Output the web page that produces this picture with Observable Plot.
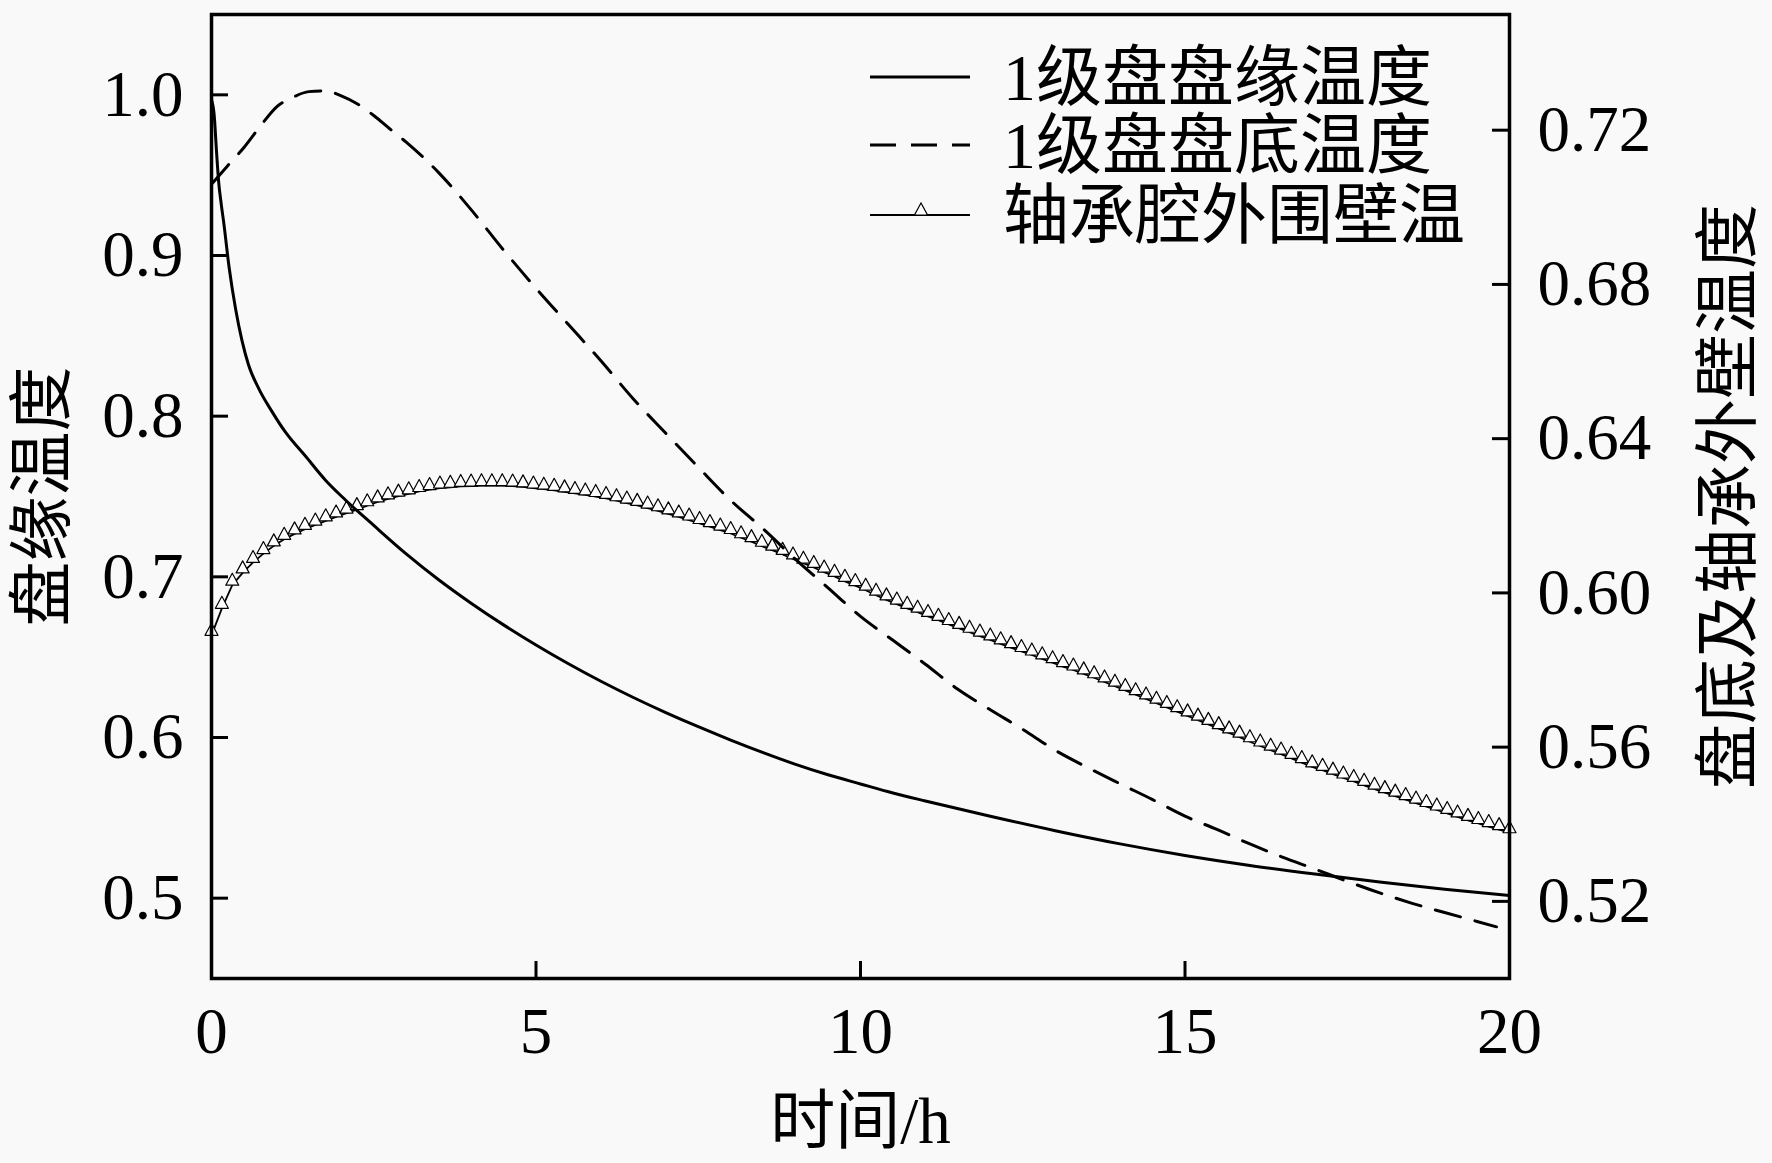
<!DOCTYPE html>
<html>
<head>
<meta charset="utf-8">
<script src="https://cdn.jsdelivr.net/npm/d3@7"></script>
<script src="https://cdn.jsdelivr.net/npm/@observablehq/plot@0.6"></script>
<style>
  html, body { margin: 0; padding: 0; background: #f9f9f9; }
  #wrap { position: relative; width: 1772px; height: 1163px; }
  #legend { position: absolute; left: 0; top: 0; pointer-events: none; }
</style>
</head>
<body>
<div id="wrap"></div>
<script>
// ---------------- data ----------------
const xTicks = [0, 5, 10, 15, 20];
const leftTicks = [0.5, 0.6, 0.7, 0.8, 0.9, 1.0];
const rightTicks = [0.52, 0.56, 0.60, 0.64, 0.68, 0.72];

const seriesNames = ["1级盘盘缘温度", "1级盘盘底温度", "轴承腔外围壁温"];
const xLabel = "时间/h";
const leftLabel = "盘缘温度";
const rightLabel = "盘底及轴承外壁温度";

// 1级盘盘缘温度 (left axis)
const rimTime = [0, 0.04, 0.08, 0.11, 0.15, 0.19, 0.27, 0.37, 0.47, 0.57, 0.73, 0.93, 1.14, 1.45, 1.76, 2.06, 2.5, 3.0, 3.5, 4.0, 4.5, 5.0, 5.5, 6.0, 6.5, 7.0, 7.5, 8.0, 8.5, 9.0, 9.5, 10, 10.5, 11, 12, 13, 14, 15, 16, 17, 18, 19, 20];
const rimTemp = [0.997, 0.988, 0.963, 0.946, 0.932, 0.920, 0.893, 0.867, 0.847, 0.832, 0.817, 0.803, 0.790, 0.775, 0.760, 0.748, 0.732, 0.7143, 0.6982, 0.6836, 0.6701, 0.6576, 0.6459, 0.6350, 0.6249, 0.6155, 0.6067, 0.5984, 0.5906, 0.5833, 0.5768, 0.5711, 0.5655, 0.5605, 0.5510, 0.5420, 0.5338, 0.5266, 0.5204, 0.5150, 0.5100, 0.5056, 0.5017];

// 1级盘盘底温度 (right axis)
const baseTime = [0, 0.25, 0.5, 0.75, 1.0, 1.25, 1.5, 1.75, 2.0, 2.25, 2.5, 2.75, 3.0, 3.5, 4.0, 4.5, 5.0, 5.5, 6.0, 6.5, 7.0, 7.5, 8.0, 8.5, 9.0, 9.5, 10.0, 10.5, 11.0, 11.5, 12.0, 12.5, 13.0, 13.5, 14.0, 14.5, 15.0, 15.5, 16.0, 16.5, 17.0, 17.5, 18.0, 18.5, 19.0, 19.5, 19.8];
const baseTemp = [0.7060, 0.7108, 0.7155, 0.7210, 0.7260, 0.7285, 0.7300, 0.7302, 0.7289, 0.7268, 0.7238, 0.7203, 0.7169, 0.7090, 0.6994, 0.6889, 0.6790, 0.6696, 0.6602, 0.6503, 0.6414, 0.6326, 0.6240, 0.6166, 0.6087, 0.6013, 0.5939, 0.5877, 0.5815, 0.5750, 0.5697, 0.5646, 0.5592, 0.5547, 0.5505, 0.5464, 0.5421, 0.5386, 0.5349, 0.5315, 0.5284, 0.5252, 0.5222, 0.5195, 0.5171, 0.5148, 0.5134];

// 轴承腔外围壁温 (right axis)
const wallTime = [0, 0.16, 0.32, 0.48, 0.64, 0.8, 0.96, 1.12, 1.28, 1.44, 1.6, 1.76, 1.92, 2.08, 2.24, 2.4, 2.56, 2.72, 2.88, 3.04, 3.2, 3.36, 3.52, 3.68, 3.84,
  4, 4.16, 4.32, 4.48, 4.64, 4.8, 4.96, 5.12, 5.28, 5.44, 5.6, 5.76, 5.92, 6.08, 6.24, 6.4, 6.56, 6.72, 6.88, 7.04, 7.2, 7.36, 7.52, 7.68, 7.84,
  8, 8.16, 8.32, 8.48, 8.64, 8.8, 8.96, 9.12, 9.28, 9.44, 9.6, 9.76, 9.92, 10.08, 10.24, 10.4, 10.56, 10.72, 10.88, 11.04, 11.2, 11.36, 11.52, 11.68, 11.84,
  12, 12.16, 12.32, 12.48, 12.64, 12.8, 12.96, 13.12, 13.28, 13.44, 13.6, 13.76, 13.92, 14.08, 14.24, 14.4, 14.56, 14.72, 14.88, 15.04, 15.2, 15.36, 15.52, 15.68, 15.84,
  16, 16.16, 16.32, 16.48, 16.64, 16.8, 16.96, 17.12, 17.28, 17.44, 17.6, 17.76, 17.92, 18.08, 18.24, 18.4, 18.56, 18.72, 18.88, 19.04, 19.2, 19.36, 19.52, 19.68, 19.84, 20];
const wallTemp = [0.5890, 0.5960, 0.6020, 0.6052, 0.6079, 0.6102, 0.6122, 0.6139, 0.6153, 0.6165, 0.6176, 0.6187, 0.6197, 0.6207, 0.6216, 0.6226, 0.6236, 0.6244, 0.6251, 0.6257, 0.6263, 0.6268, 0.6272, 0.6274, 0.6276,
  0.6277, 0.6278, 0.6278, 0.6278, 0.6277, 0.6275, 0.6272, 0.6269, 0.6266, 0.6262, 0.6258, 0.6254, 0.6250, 0.6245, 0.6239, 0.6233, 0.6227, 0.6220, 0.6213, 0.6205, 0.6197, 0.6189, 0.6180, 0.6172, 0.6163,
  0.6154, 0.6143, 0.6133, 0.6121, 0.6111, 0.6100, 0.6088, 0.6077, 0.6066, 0.6054, 0.6043, 0.6030, 0.6019, 0.6007, 0.5994, 0.5982, 0.5971, 0.5960, 0.5950, 0.5939, 0.5929, 0.5918, 0.5908, 0.5898, 0.5888,
  0.5878, 0.5868, 0.5858, 0.5848, 0.5839, 0.5829, 0.5819, 0.5809, 0.5800, 0.5790, 0.5780, 0.5769, 0.5758, 0.5747, 0.5736, 0.5725, 0.5714, 0.5703, 0.5692, 0.5681, 0.5670, 0.5659, 0.5648, 0.5637, 0.5626,
  0.5614, 0.5603, 0.5592, 0.5582, 0.5571, 0.5560, 0.5549, 0.5540, 0.5530, 0.5520, 0.5511, 0.5501, 0.5491, 0.5482, 0.5473, 0.5464, 0.5455, 0.5446, 0.5437, 0.5428, 0.5419, 0.5410, 0.5402, 0.5394, 0.5386, 0.5378];

// ---------------- layout / style ----------------
const W = 1772, H = 1163;
const M = {top: 14, right: 263, bottom: 185, left: 211};
const frameW = W - M.left - M.right, frameH = H - M.top - M.bottom;
const tickLen = 17;
const leftDomain = [0.45, 1.05];
const rightDomain = [0.50, 0.75];
const toLeft = d3.scaleLinear().domain(rightDomain).range(leftDomain);
const font = "'Liberation Serif', 'Noto Sans CJK SC', serif";
const triPath = "M0,-12L-6.5,0L6.5,0Z";

const rim = rimTime.map((t, i) => ({t, v: rimTemp[i]}));
const base = baseTime.map((t, i) => ({t, v: toLeft(baseTemp[i])}));
const wall = wallTime.map((t, i) => ({t, v: toLeft(wallTemp[i])}));

function triMarker(color, context) {
  const doc = context && context.document ? context.document : document;
  const m = doc.createElementNS("http://www.w3.org/2000/svg", "marker");
  m.setAttribute("viewBox", "-8 -14 16 16");
  m.setAttribute("markerWidth", 16);
  m.setAttribute("markerHeight", 16);
  m.setAttribute("markerUnits", "userSpaceOnUse");
  m.setAttribute("orient", "0");
  m.setAttribute("overflow", "visible");
  const p = doc.createElementNS("http://www.w3.org/2000/svg", "path");
  p.setAttribute("d", triPath);
  p.setAttribute("fill", "white");
  p.setAttribute("stroke", "black");
  p.setAttribute("stroke-width", "1.2");
  m.appendChild(p);
  return m;
}

const chart = Plot.plot({
  width: W, height: H,
  marginTop: M.top, marginRight: M.right, marginBottom: M.bottom, marginLeft: M.left,
  style: {fontFamily: font, fontSize: "64px", background: "#f9f9f9", color: "black"},
  x: {domain: [0, 20]},
  y: {domain: leftDomain},
  marks: [
    // series
    Plot.line(wall, {x: "t", y: "v", stroke: "black", strokeWidth: 1.8, marker: triMarker}),
    Plot.line(base, {x: "t", y: "v", stroke: "black", strokeWidth: 3, strokeDasharray: "26,15", curve: "monotone-x"}),
    Plot.line(rim, {x: "t", y: "v", stroke: "black", strokeWidth: 3, curve: "monotone-x"}),
    // inward ticks
    Plot.ruleX(xTicks.slice(1, -1), {stroke: "black", strokeWidth: 3, insetTop: frameH - tickLen}),
    Plot.ruleY(leftTicks, {stroke: "black", strokeWidth: 3, insetRight: frameW - tickLen}),
    Plot.ruleY(rightTicks.map(toLeft), {stroke: "black", strokeWidth: 3, insetLeft: frameW - tickLen}),
    // axes (labels only)
    Plot.axisX(xTicks, {anchor: "bottom", tickSize: 0, tickPadding: 28, label: null, fontSize: 65}),
    Plot.axisY(leftTicks, {anchor: "left", tickSize: 0, tickPadding: 28, label: null, fontSize: 65, tickFormat: d3.format(".1f")}),
    Plot.axisY(rightTicks.map(toLeft), {anchor: "right", tickSize: 0, tickPadding: 28, label: null, fontSize: 65,
      tickFormat: d => d3.format(".2f")(toLeft.invert(d))}),
    // frame
    Plot.frame({stroke: "black", strokeWidth: 3.5}),
    // axis titles
    Plot.text([leftLabel], {text: d => d, frameAnchor: "left", dx: -168, rotate: -90, fontSize: 65, textAnchor: "middle", lineAnchor: "middle", fill: "black"}),
    Plot.text([rightLabel], {text: d => d, frameAnchor: "right", dx: 220, rotate: -90, fontSize: 65, textAnchor: "middle", lineAnchor: "middle", fill: "black"}),
    Plot.text([xLabel], {text: d => d, frameAnchor: "bottom", dy: 144, fontSize: 65, textAnchor: "middle", lineAnchor: "middle", fill: "black"})
  ]
});

const wrap = document.getElementById("wrap");
wrap.appendChild(chart);

// ---------------- legend (overlay) ----------------
const legendRows = [
  {name: seriesNames[0], dash: null, tri: false},
  {name: seriesNames[1], dash: "26,15", tri: false},
  {name: seriesNames[2], dash: null, tri: true}
];
const lg = d3.select(wrap).append("svg").attr("id", "legend").attr("width", W).attr("height", H);
const rowY = [77, 145, 215];
legendRows.forEach((r, i) => {
  const y = rowY[i];
  lg.append("line").attr("x1", 870).attr("x2", 970).attr("y1", y).attr("y2", y)
    .attr("stroke", "black").attr("stroke-width", r.dash ? 3 : (r.tri ? 1.8 : 3))
    .attr("stroke-dasharray", r.dash);
  if (r.tri) {
    lg.append("path").attr("transform", `translate(921,${y})`).attr("d", triPath)
      .attr("fill", "white").attr("stroke", "black").attr("stroke-width", 1.2);
  }
  lg.append("text").attr("x", 1003).attr("y", y).attr("dy", "0.35em")
    .attr("font-family", font).attr("font-size", 66).attr("fill", "black").text(r.name);
});
</script>
</body>
</html>
